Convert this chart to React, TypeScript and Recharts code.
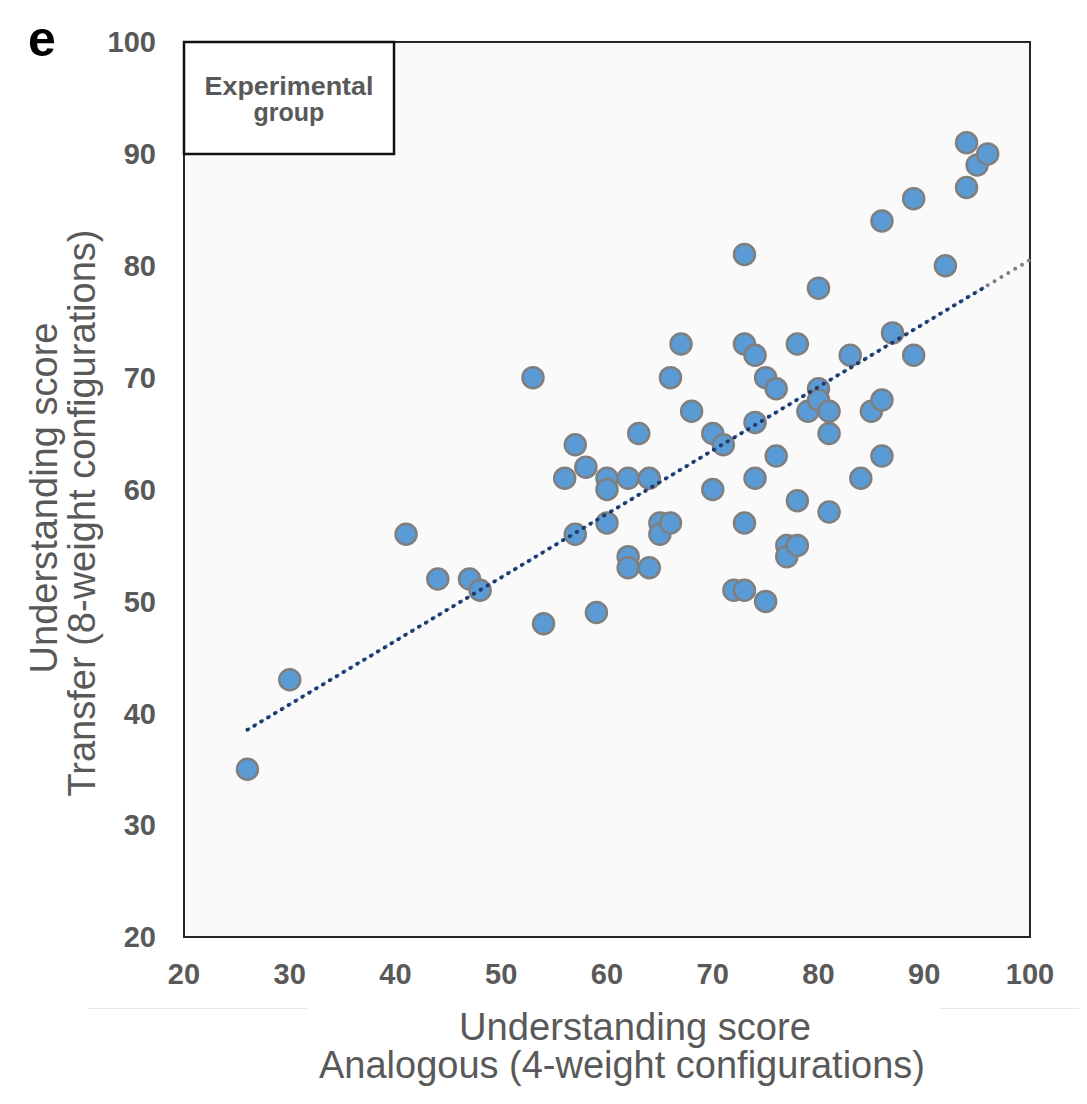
import { ScatterChart, Scatter, XAxis, YAxis, ReferenceArea } from 'recharts'

// Understanding score, analogous task (4-weight configurations)
const analogous = [
  26, 30, 41, 44, 47, 48, 53, 54, 56, 57, 57, 58, 59, 60, 60, 60, 62, 62, 62, 63,
  64, 64, 65, 65, 66, 66, 67, 68, 70, 70, 71, 72, 73, 73, 73, 73, 74, 74, 74, 75,
  75, 76, 76, 77, 77, 78, 78, 78, 79, 80, 80, 80, 81, 81, 81, 83, 84, 85, 86, 86,
  86, 87, 89, 89, 92, 94, 94, 95, 96,
]

// Understanding score, transfer task (8-weight configurations)
const transfer = [
  35, 43, 56, 52, 52, 51, 70, 48, 61, 64, 56, 62, 49, 61, 60, 57, 61, 54, 53, 65,
  61, 53, 57, 56, 57, 70, 73, 67, 65, 60, 64, 51, 51, 81, 73, 57, 72, 66, 61, 70,
  50, 69, 63, 55, 54, 73, 59, 55, 67, 78, 69, 68, 67, 65, 58, 72, 61, 67, 84, 68,
  63, 74, 86, 72, 80, 91, 87, 89, 90,
]

const ticks = [20, 30, 40, 50, 60, 70, 80, 90, 100]

const points = analogous.map((x, i) => ({ x, y: transfer[i] }))

// least squares trendline
const n = points.length
const mx = analogous.reduce((a, b) => a + b, 0) / n
const my = transfer.reduce((a, b) => a + b, 0) / n
const sxy = points.reduce((a, p) => a + (p.x - mx) * (p.y - my), 0)
const sxx = points.reduce((a, p) => a + (p.x - mx) * (p.x - mx), 0)
const slope = sxy / sxx
const intercept = my - slope * mx
const fit = (x: number) => ({ x, y: intercept + slope * x })
const minX = Math.min(...analogous)
const maxX = Math.max(...analogous)
const trend = [fit(minX), fit(maxX)]
const forecast = [fit(maxX), fit(100)]

const GREY = '#595959'
const FONT = '"Liberation Sans", Arial, Helvetica, sans-serif'

const Dot = (props: any) => (
  <circle cx={props.cx} cy={props.cy} r={10.5} fill="#5b9bd5" stroke="#7f7f7f" strokeWidth={2.5} />
)
const NoShape = () => <g />

export default function App() {
  return (
    <div style={{ position: 'relative', width: 1071, height: 1096, fontFamily: FONT, background: '#fff' }}>
      <div
        style={{
          position: 'absolute', left: 80, top: 2, width: 998, height: 998,
          borderRight: '1px solid #e8e8e8', borderBottom: '1px solid #e8e8e8',
        }}
      />
      <div style={{ position: 'absolute', left: 299, top: 980, width: 633, height: 60, background: '#fff' }} />
      <div style={{ position: 'absolute', left: 0, top: 0 }}>
        <ScatterChart width={1071} height={1096} margin={{ top: 34, right: 49, left: 0, bottom: 107 }}>
          <XAxis
            type="number"
            dataKey="x"
            domain={[20, 100]}
            ticks={ticks}
            axisLine={false}
            tickLine={false}
            tickSize={0}
            tickMargin={26}
            height={60}
            tick={{ fill: GREY, fontSize: 29, fontWeight: 700 }}
          />
          <YAxis
            type="number"
            dataKey="y"
            domain={[20, 100]}
            ticks={ticks}
            axisLine={false}
            tickLine={false}
            tickSize={0}
            tickMargin={28}
            width={176}
            tick={{ fill: GREY, fontSize: 29, fontWeight: 700 }}
          />
          <ReferenceArea x1={20} x2={100} y1={20} y2={100} fill="#fafafa" fillOpacity={1} stroke="#262626" strokeWidth={2} />
          <ReferenceArea x1={20} x2={39.86} y1={90} y2={100} fill="#ffffff" fillOpacity={1} stroke="#111" strokeWidth={2.5} />
          <Scatter data={points} shape={Dot} isAnimationActive={false} />
          <Scatter
            data={trend}
            shape={NoShape}
            line={{ stroke: '#4472c4', strokeWidth: 3, strokeDasharray: '3 5' }}
            isAnimationActive={false}
          />
          <Scatter
            data={trend}
            shape={NoShape}
            line={{ stroke: '#1f3864', strokeWidth: 4, strokeDasharray: '0 8', strokeLinecap: 'round' }}
            isAnimationActive={false}
          />
          <Scatter
            data={forecast}
            shape={NoShape}
            line={{ stroke: '#7f7f7f', strokeWidth: 4, strokeDasharray: '0 8', strokeLinecap: 'round' }}
            isAnimationActive={false}
          />
        </ScatterChart>
      </div>
      <svg
        width={1071}
        height={1096}
        style={{ position: 'absolute', left: 0, top: 0, pointerEvents: 'none', fontFamily: FONT }}
      >
        <text x={20} y={48} fontSize={50} fontWeight={700} fill="#000">e</text>
        <text x={281} y={87} textAnchor="middle" fontSize={25} fontWeight={700} fill={GREY} textLength={169} lengthAdjust="spacingAndGlyphs">
          Experimental
        </text>
        <text x={281} y={113} textAnchor="middle" fontSize={25} fontWeight={700} fill={GREY}>
          group
        </text>
        <text x={627} y={1032} textAnchor="middle" fontSize={38} fill={GREY} textLength={352} lengthAdjust="spacingAndGlyphs">
          Understanding score
        </text>
        <text x={614} y={1070} textAnchor="middle" fontSize={38} fill={GREY} textLength={606} lengthAdjust="spacingAndGlyphs">
          Analogous (4-weight configurations)
        </text>
        <text
          transform="translate(49,490) rotate(-90)"
          textAnchor="middle"
          fontSize={38}
          fill={GREY}
          textLength={351}
          lengthAdjust="spacingAndGlyphs"
        >
          Understanding score
        </text>
        <text
          transform="translate(87,505) rotate(-90)"
          textAnchor="middle"
          fontSize={38}
          fill={GREY}
          textLength={567}
          lengthAdjust="spacingAndGlyphs"
        >
          Transfer (8-weight configurations)
        </text>
      </svg>
    </div>
  )
}
